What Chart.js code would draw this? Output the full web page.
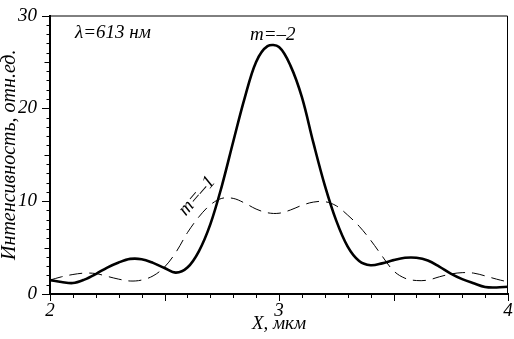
<!DOCTYPE html>
<html>
<head>
<meta charset="utf-8">
<script src="https://cdn.jsdelivr.net/npm/chart.js@4"></script>
<style>
  html, body { margin: 0; padding: 0; background: #fff; }
  #box { width: 514px; height: 339px; }
</style>
</head>
<body>
<div id="box"><canvas id="chart"></canvas></div>
<script>
(() => {
    // Координата X, мкм
    const xValues = [
        2.00, 2.05, 2.10, 2.15, 2.20, 2.25, 2.30, 2.35, 2.40, 2.45,
        2.50, 2.55, 2.60, 2.65, 2.70, 2.75, 2.80, 2.85, 2.90, 2.95,
        3.00, 3.05, 3.10, 3.15, 3.20, 3.25, 3.30, 3.35, 3.40, 3.45,
        3.50, 3.55, 3.60, 3.65, 3.70, 3.75, 3.80, 3.85, 3.90, 3.95, 4.00
    ]
    // Интенсивность для m=-2 (сплошная линия)
    const intensityM2 = [
        1.50, 1.30, 1.18, 1.55, 2.15, 2.85, 3.40, 3.78, 3.75, 3.35,
        2.80, 2.30, 2.85, 4.60, 7.50, 11.6, 16.4, 21.1, 25.0, 26.7,
        26.6, 24.6, 21.2, 16.3, 11.7, 7.90, 5.10, 3.55, 3.10, 3.30,
        3.65, 3.90, 3.90, 3.60, 2.95, 2.20, 1.60, 1.15, 0.75, 0.70, 0.78
    ]
    // Интенсивность для m=-1 (штриховая линия)
    const intensityM1 = [
        1.50, 1.85, 2.10, 2.25, 2.20, 1.90, 1.60, 1.40, 1.50, 1.95,
        2.90, 4.50, 6.60, 8.30, 9.60, 10.3, 10.3, 9.80, 9.15, 8.75,
        8.70, 9.05, 9.55, 9.90, 9.95, 9.50, 8.50, 7.30, 5.80, 4.10,
        2.50, 1.70, 1.45, 1.50, 1.85, 2.15, 2.30, 2.25, 1.95, 1.60, 1.30
    ]
    // Подписанные деления осей
    const xTickLabels = [2, 3, 4]
    const yTickLabels = [0, 10, 20, 30]

    const FONT = '"Liberation Serif", "Times New Roman", serif'
    const near = (v, list) => list.find(t => Math.abs(v - t) < 1e-6)
    const multiple = (v, s) => Math.abs(v / s - Math.round(v / s)) < 1e-6

    // Надписи на поле графика (в координатах данных)
    const notes = [
        {text: 'λ=613 нм', x: 2.109, y: 27.6, rot: 0, align: 'left', base: 'alphabetic'},
        {text: 'm=–2', x: 2.873, y: 27.4, rot: 0, align: 'left', base: 'alphabetic'},
        {text: 'm=–1', x: 2.642, y: 10.56, rot: -49, align: 'center', base: 'middle'}
    ]

    // Рамка, засечки на осях и надписи
    const framePlugin = {
        id: 'frame',
        afterDraw(chart) {
            const {ctx, chartArea: a, scales: {x, y}} = chart
            ctx.save()
            ctx.strokeStyle = '#000'
            ctx.lineWidth = 1
            ctx.beginPath()
            ctx.moveTo(a.left, a.top + 0.5)
            ctx.lineTo(a.right - 0.5, a.top + 0.5)
            ctx.lineTo(a.right - 0.5, a.bottom)
            ctx.stroke()

            // засечки: длинные на целых и половинах, короткие через 0.1
            ctx.beginPath()
            x.ticks.forEach(t => {
                const px = Math.round(x.getPixelForValue(t.value)) + 0.5
                ctx.moveTo(px, x.top)
                ctx.lineTo(px, x.top + (multiple(t.value, 0.5) ? 7 : 4))
            })
            y.ticks.forEach(t => {
                const py = Math.round(y.getPixelForValue(t.value)) + 0.5
                const len = multiple(t.value, 10) ? 8 : multiple(t.value, 5) ? 5.5 : 3.5
                ctx.moveTo(y.right - len, py)
                ctx.lineTo(y.right, py)
            })
            ctx.stroke()

            ctx.fillStyle = '#000'
            ctx.font = 'italic 19px ' + FONT
            notes.forEach(n => {
                ctx.save()
                ctx.translate(x.getPixelForValue(n.x), y.getPixelForValue(n.y))
                ctx.rotate(n.rot * Math.PI / 180)
                ctx.textAlign = n.align
                ctx.textBaseline = n.base
                ctx.fillText(n.text, 0, 0)
                ctx.restore()
            })
            ctx.restore()
        }
    }

    const tickFont = {family: FONT, size: 19, style: 'italic', lineHeight: 1}

    new Chart(document.getElementById('chart'), {
        type: 'line',
        data: {
            datasets: [
                {
                    label: 'm=-2',
                    data: xValues.map((x, i) => ({x, y: intensityM2[i]})),
                    borderColor: '#000',
                    borderWidth: 2.6,
                    pointRadius: 0,
                    tension: 0.35
                },
                {
                    label: 'm=-1',
                    data: xValues.map((x, i) => ({x, y: intensityM1[i]})),
                    borderColor: '#000',
                    borderWidth: 1,
                    borderDash: [13, 7],
                    pointRadius: 0,
                    tension: 0.35
                }
            ]
        },
        options: {
            responsive: true,
            maintainAspectRatio: false,
            animation: false,
            layout: {padding: {top: 7, right: 6, left: 0, bottom: 0}},
            plugins: {legend: {display: false}, tooltip: {enabled: false}},
            scales: {
                x: {
                    type: 'linear', min: 2, max: 4,
                    grid: {display: false, drawTicks: true, tickLength: 6},
                    border: {display: true, color: '#000', width: 2},
                    ticks: {
                        stepSize: 0.1, autoSkip: false, maxRotation: 0, padding: 1,
                        color: '#000', font: tickFont,
                        callback: v => near(v, xTickLabels) !== undefined ? String(near(v, xTickLabels)) : ''
                    },
                    title: {display: true, text: 'X, мкм', color: '#000',
                        font: {family: FONT, size: 19, style: 'italic', lineHeight: 1},
                        padding: {top: 0, bottom: 6}},
                    afterFit: s => { s.height = 45 }
                },
                y: {
                    type: 'linear', min: 0, max: 30,
                    grid: {display: false, drawTicks: true, tickLength: 7},
                    border: {display: true, color: '#000', width: 2},
                    ticks: {
                        stepSize: 1, autoSkip: false, padding: 6,
                        color: '#000', font: tickFont,
                        callback: v => near(v, yTickLabels) !== undefined ? String(near(v, yTickLabels)) : ''
                    },
                    title: {display: true, text: 'Интенсивность, отн.ед.', color: '#000',
                        font: {family: FONT, size: 20, style: 'italic', lineHeight: 1},
                        padding: {top: 0, bottom: 0}},
                    afterFit: s => { s.width = 50 }
                }
            }
        },
        plugins: [framePlugin]
    })
})()
</script>
</body>
</html>
